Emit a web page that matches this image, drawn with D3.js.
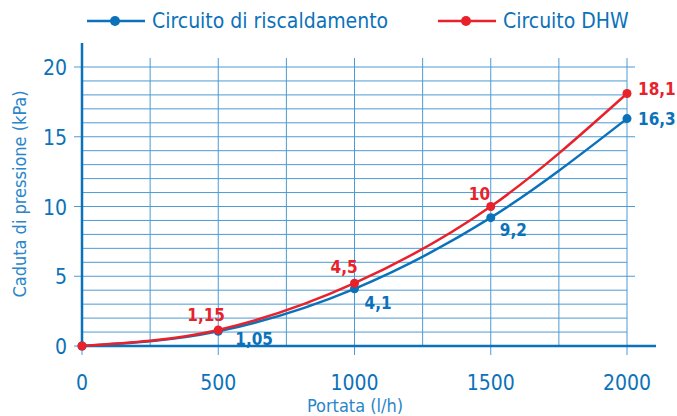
<!DOCTYPE html>
<html><head><meta charset="utf-8">
<script src="https://cdn.jsdelivr.net/npm/d3@7"></script>
<style>body{margin:0;background:#fff}svg{display:block}</style>
</head><body>
<svg id="c" width="677" height="416"></svg>
<script>
const flows = [0, 500, 1000, 1500, 2000];
const heating = [0, 1.05, 4.1, 9.2, 16.3];
const dhw = [0, 1.15, 4.5, 10, 18.1];
const heatingLabels = ["", "1,05", "4,1", "9,2", "16,3"];
const dhwLabels = ["", "1,15", "4,5", "10", "18,1"];
const xTicks = [0, 500, 1000, 1500, 2000];
const yTicks = [0, 5, 10, 15, 20];
const seriesNames = ["Circuito di riscaldamento", "Circuito DHW"];

const BLUE = "#0b72ba", RED = "#e8212b", GRID = "#4d9bd3";
const FONT = "'DejaVu Sans Condensed','Liberation Sans Narrow','Noto Sans',sans-serif";
const svg = d3.select("#c");
const x = d3.scaleLinear().domain([0, 2000]).range([82, 627]);
const y = d3.scaleLinear().domain([0, 20]).range([346, 67]);

const g = svg.append("g");
g.selectAll(".hg").data(d3.range(1, 21)).join("line")
  .attr("x1", x(0)).attr("x2", d => d % 5 === 0 ? x(2000) + 8 : x(2000))
  .attr("y1", d => y(d)).attr("y2", d => y(d))
  .attr("stroke", GRID).attr("stroke-width", 1);
g.selectAll(".vg").data(d3.range(250, 2001, 250)).join("line")
  .attr("x1", d => x(d)).attr("x2", d => x(d))
  .attr("y1", 58).attr("y2", d => d % 500 === 0 ? y(0) + 9 : y(0))
  .attr("stroke", GRID).attr("stroke-width", 1);
g.selectAll(".yt").data(yTicks).join("line")
  .attr("x1", x(0) - 8).attr("x2", x(0)).attr("y1", d => y(d)).attr("y2", d => y(d))
  .attr("stroke", GRID);
g.append("line").attr("x1", x(0)).attr("x2", x(0)).attr("y1", y(0)+9).attr("y2", y(0)).attr("stroke", GRID);
g.append("line").attr("x1", x(0)).attr("x2", x(0)).attr("y1", 43).attr("y2", y(0)+1)
  .attr("stroke", BLUE).attr("stroke-width", 2.5);
g.append("line").attr("x1", x(0)-1).attr("x2", 656).attr("y1", y(0)).attr("y2", y(0))
  .attr("stroke", BLUE).attr("stroke-width", 2.5);

svg.selectAll(".xl").data(xTicks).join("text")
  .attr("x", d => x(d)).attr("y", 390).attr("text-anchor", "middle")
  .attr("font-family", FONT).attr("font-size", 21).attr("fill", BLUE).text(d => d);
svg.selectAll(".yl").data(yTicks).join("text")
  .attr("x", 67).attr("y", d => y(d) + 8).attr("text-anchor", "end")
  .attr("font-family", FONT).attr("font-size", 21).attr("fill", BLUE).text(d => d);
svg.append("text").attr("x", 355).attr("y", 412).attr("text-anchor", "middle")
  .attr("font-family", FONT).attr("font-size", 18).attr("fill", "#2a86c8").text("Portata (l/h)");
svg.append("text").attr("transform", "translate(26,194) rotate(-90)").attr("text-anchor", "middle")
  .attr("font-family", FONT).attr("font-size", 18).attr("fill", "#2a86c8").text("Caduta di pressione (kPa)");

const line = d3.line().x((d, i) => x(flows[i])).y(d => y(d)).curve(d3.curveMonotoneX);
svg.append("path").attr("d", line(heating)).attr("fill", "none").attr("stroke", BLUE).attr("stroke-width", 2.5);
svg.append("path").attr("d", line(dhw)).attr("fill", "none").attr("stroke", RED).attr("stroke-width", 2.5);
svg.selectAll(".hp").data(heating).join("circle")
  .attr("cx", (d, i) => x(flows[i])).attr("cy", d => y(d)).attr("r", 4.5).attr("fill", BLUE);
svg.selectAll(".dp").data(dhw).join("circle")
  .attr("cx", (d, i) => x(flows[i])).attr("cy", d => y(d)).attr("r", 4.5).attr("fill", RED);

const hOff = [[0,0],[17,14],[10,20],[9,18],[11,6]];
const dOff = [[0,0],[-31,-9],[-24,-10],[-22,-7],[11,1]];
svg.selectAll(".hv").data(heating).join("text")
  .attr("x", (d, i) => x(flows[i]) + hOff[i][0]).attr("y", (d, i) => y(d) + hOff[i][1])
  .attr("font-family", FONT).attr("font-size", 17).attr("font-weight", "bold").attr("fill", BLUE)
  .text((d, i) => heatingLabels[i]);
svg.selectAll(".dv").data(dhw).join("text")
  .attr("x", (d, i) => x(flows[i]) + dOff[i][0]).attr("y", (d, i) => y(d) + dOff[i][1])
  .attr("font-family", FONT).attr("font-size", 17).attr("font-weight", "bold").attr("fill", RED)
  .text((d, i) => dhwLabels[i]);

const leg = [{c: BLUE, x: 87}, {c: RED, x: 438}];
leg.forEach((l, i) => {
  svg.append("line").attr("x1", l.x).attr("x2", l.x + 58).attr("y1", 21).attr("y2", 21)
    .attr("stroke", l.c).attr("stroke-width", 2.5);
  svg.append("circle").attr("cx", l.x + 28).attr("cy", 21).attr("r", 5).attr("fill", l.c);
  svg.append("text").attr("x", l.x + 65).attr("y", 28).attr("font-family", FONT)
    .attr("font-size", 21).attr("fill", BLUE).text(seriesNames[i]);
});
</script>
</body></html>
